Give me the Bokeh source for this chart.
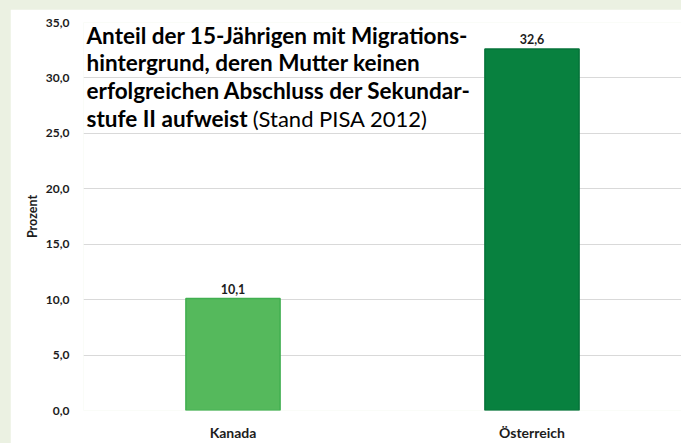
import re
from bokeh.plotting import figure
from bokeh.models import ColumnDataSource, Label, LabelSet, FixedTicker
from bokeh.core.properties import value
from bokeh.embed import file_html
from bokeh.resources import INLINE

# ---- data ----
categories = ["Kanada", "Österreich"]
values = [10.1, 32.6]
y_ticks = [0, 5, 10, 15, 20, 25, 30, 35]
y_tick_labels = ["0,0", "5,0", "10,0", "15,0", "20,0", "25,0", "30,0", "35,0"]
axis_title = "Prozent"
title_lines_bold = [
    "Anteil der 15-Jährigen mit Migrations-",
    "hintergrund, deren Mutter keinen",
    "erfolgreichen Abschluss der Sekundar-",
    "stufe II aufweist",
]
title_suffix = "(Stand PISA 2012)"

# ---- styles ----
bar_fill = ["#55B95C", "#08813F"]
bar_line = ["#40AF50", "#06733A"]
FONT = "Lato"
TXT = "#1c1c1c"

src = ColumnDataSource(dict(
    cat=categories,
    val=values,
    lab=[f"{v:.1f}".replace(".", ",") for v in values],
    fill=bar_fill,
    line=bar_line,
))

p = figure(
    x_range=categories, y_range=(0, 35),
    width=671, height=434,
    output_backend="svg", toolbar_location=None,
    min_border_left=73, min_border_right=0, min_border_top=13, min_border_bottom=32,
)
p.background_fill_color = "white"
p.border_fill_color = "white"
p.outline_line_color = None

p.vbar(x="cat", top="val", width=0.315, source=src,
       fill_color="fill", line_color="line", line_width=1.5)

labels = LabelSet(x="cat", y="val", text="lab", source=src,
                  text_align="center", text_baseline="bottom", y_offset=5,
                  text_font=value(FONT), text_font_style="bold",
                  text_font_size="12.5px", text_color=TXT)
p.add_layout(labels)

# axes
p.yaxis.ticker = FixedTicker(ticks=y_ticks)
p.yaxis.major_label_overrides = {t: l for t, l in zip(y_ticks, y_tick_labels)}
p.yaxis.axis_line_color = None
p.yaxis.major_tick_line_color = None
p.yaxis.minor_tick_line_color = None
p.yaxis.major_tick_out = 0
p.yaxis.major_tick_in = 0
p.yaxis.minor_tick_out = 0
p.yaxis.major_label_text_font = FONT
p.yaxis.major_label_text_font_style = "bold"
p.yaxis.major_label_text_font_size = "12px"
p.yaxis.major_label_text_color = TXT
p.yaxis.major_label_standoff = 14
p.yaxis.axis_label = axis_title
p.yaxis.axis_label_text_font = FONT
p.yaxis.axis_label_text_font_style = "bold"
p.yaxis.axis_label_text_font_size = "12.5px"
p.yaxis.axis_label_text_color = TXT
p.yaxis.axis_label_standoff = 3

p.xaxis.axis_line_color = None
p.xaxis.major_tick_line_color = None
p.xaxis.minor_tick_line_color = None
p.xaxis.major_tick_out = 0
p.xaxis.major_tick_in = 0
p.xaxis.minor_tick_out = 0
p.xaxis.major_label_text_font = FONT
p.xaxis.major_label_text_font_style = "bold"
p.xaxis.major_label_text_font_size = "14px"
p.xaxis.major_label_text_color = TXT
p.xaxis.major_label_standoff = 13

p.xgrid.grid_line_color = None
p.ygrid.grid_line_color = "#D9D9D9"
p.ygrid.grid_line_width = 1

# title block inside the plot
title_y = [33.83, 31.40, 28.88, 26.36]
for line, ty in zip(title_lines_bold, title_y):
    p.add_layout(Label(x=0.01, y=ty, text=line, text_font=FONT,
                       text_font_style="bold", text_font_size="22.5px",
                       text_color="black", text_baseline="middle"))
p.add_layout(Label(x=0.566, y=title_y[-1], text=title_suffix, text_font=FONT,
                   text_font_style="normal", text_font_size="22px",
                   text_color="black", text_baseline="middle"))

html = file_html(p, INLINE)
css = ("<style>html{background:#EBF1E2 !important;}"
       "body{background:#EBF1E2 !important;padding:9px 0 0 10px !important;"
       "margin:0 !important;overflow:hidden !important;}</style>")
html = re.sub(r"</head>", css + "</head>", html, count=1)
open("out.html", "w").write(html)
